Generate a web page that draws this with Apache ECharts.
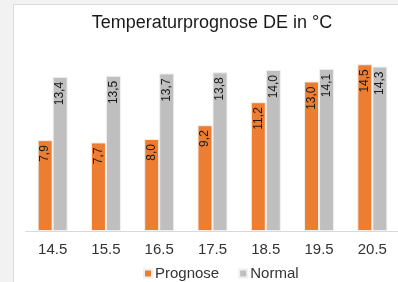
<!DOCTYPE html>
<html lang="de">
<head>
    <meta charset="UTF-8">
    <title>Temperaturprognose</title>
    <style>
        html, body {
            margin: 0;
            padding: 0;
            background: #f2f2f2;
        }
        .panel {
            position: absolute;
            left: 13px;
            top: 4px;
            width: 385px;
            height: 278px;
            background: #ffffff;
            border-left: 1px solid #dcdcdc;
            border-top: 1px solid #dcdcdc;
        }
        #chart {
            width: 385px;
            height: 278px;
        }
    </style>
    <script src="https://cdn.jsdelivr.net/npm/echarts@6/dist/echarts.min.js"></script>
</head>
<body>
    <div class="panel">
        <div id="chart"></div>
    </div>

    <script>
        // Daten
        var tage = ['14.5', '15.5', '16.5', '17.5', '18.5', '19.5', '20.5'];
        var prognose = [7.9, 7.7, 8.0, 9.2, 11.2, 13.0, 14.5];
        var normal = [13.4, 13.5, 13.7, 13.8, 14.0, 14.1, 14.3];

        function komma(p) {
            return p.value.toFixed(1).replace('.', ',');
        }

        var labelStyle = {
            show: true,
            position: 'insideTop',
            rotate: 90,
            align: 'right',
            verticalAlign: 'middle',
            distance: 5,
            fontSize: 12,
            color: '#1a1a1a',
            fontFamily: 'Liberation Sans, Arial, sans-serif',
            formatter: komma
        };

        var chart = echarts.init(document.getElementById('chart'));
        var option = {
            animation: false,
            textStyle: { fontFamily: 'Liberation Sans, Arial, sans-serif' },
            title: {
                text: 'Temperaturprognose DE in °C',
                left: 198,
                top: 9,
                padding: 0,
                textAlign: 'center',
                textStyle: { fontSize: 18, fontWeight: 'normal', color: '#1a1a1a' }
            },
            legend: {
                left: 129,
                top: 261,
                padding: 0,
                icon: 'rect',
                itemWidth: 8,
                itemHeight: 8,
                itemGap: 19,
                textStyle: { fontSize: 15, color: '#333', padding: [0, 0, 0, -2] },
                data: ['Prognose', 'Normal']
            },
            grid: { left: 12, right: 0, top: 42, bottom: 52 },
            xAxis: {
                type: 'category',
                data: tage,
                axisLine: { lineStyle: { color: '#d9d9d9' } },
                axisTick: { show: false },
                axisLabel: { fontSize: 15, color: '#333', margin: 11 }
            },
            yAxis: {
                type: 'value',
                min: 0,
                max: 16,
                show: false,
                splitLine: { show: false }
            },
            series: [
                {
                    name: 'Prognose',
                    type: 'bar',
                    data: prognose,
                    barWidth: 15,
                    barGap: '0%',
                    itemStyle: { color: '#ed7d31', borderColor: '#f0f0f0', borderWidth: 1 },
                    label: labelStyle
                },
                {
                    name: 'Normal',
                    type: 'bar',
                    data: normal,
                    barWidth: 15,
                    itemStyle: { color: '#bfbfbf', borderColor: '#f0f0f0', borderWidth: 1 },
                    label: labelStyle
                }
            ]
        };
        chart.setOption(option);
    </script>
</body>
</html>
